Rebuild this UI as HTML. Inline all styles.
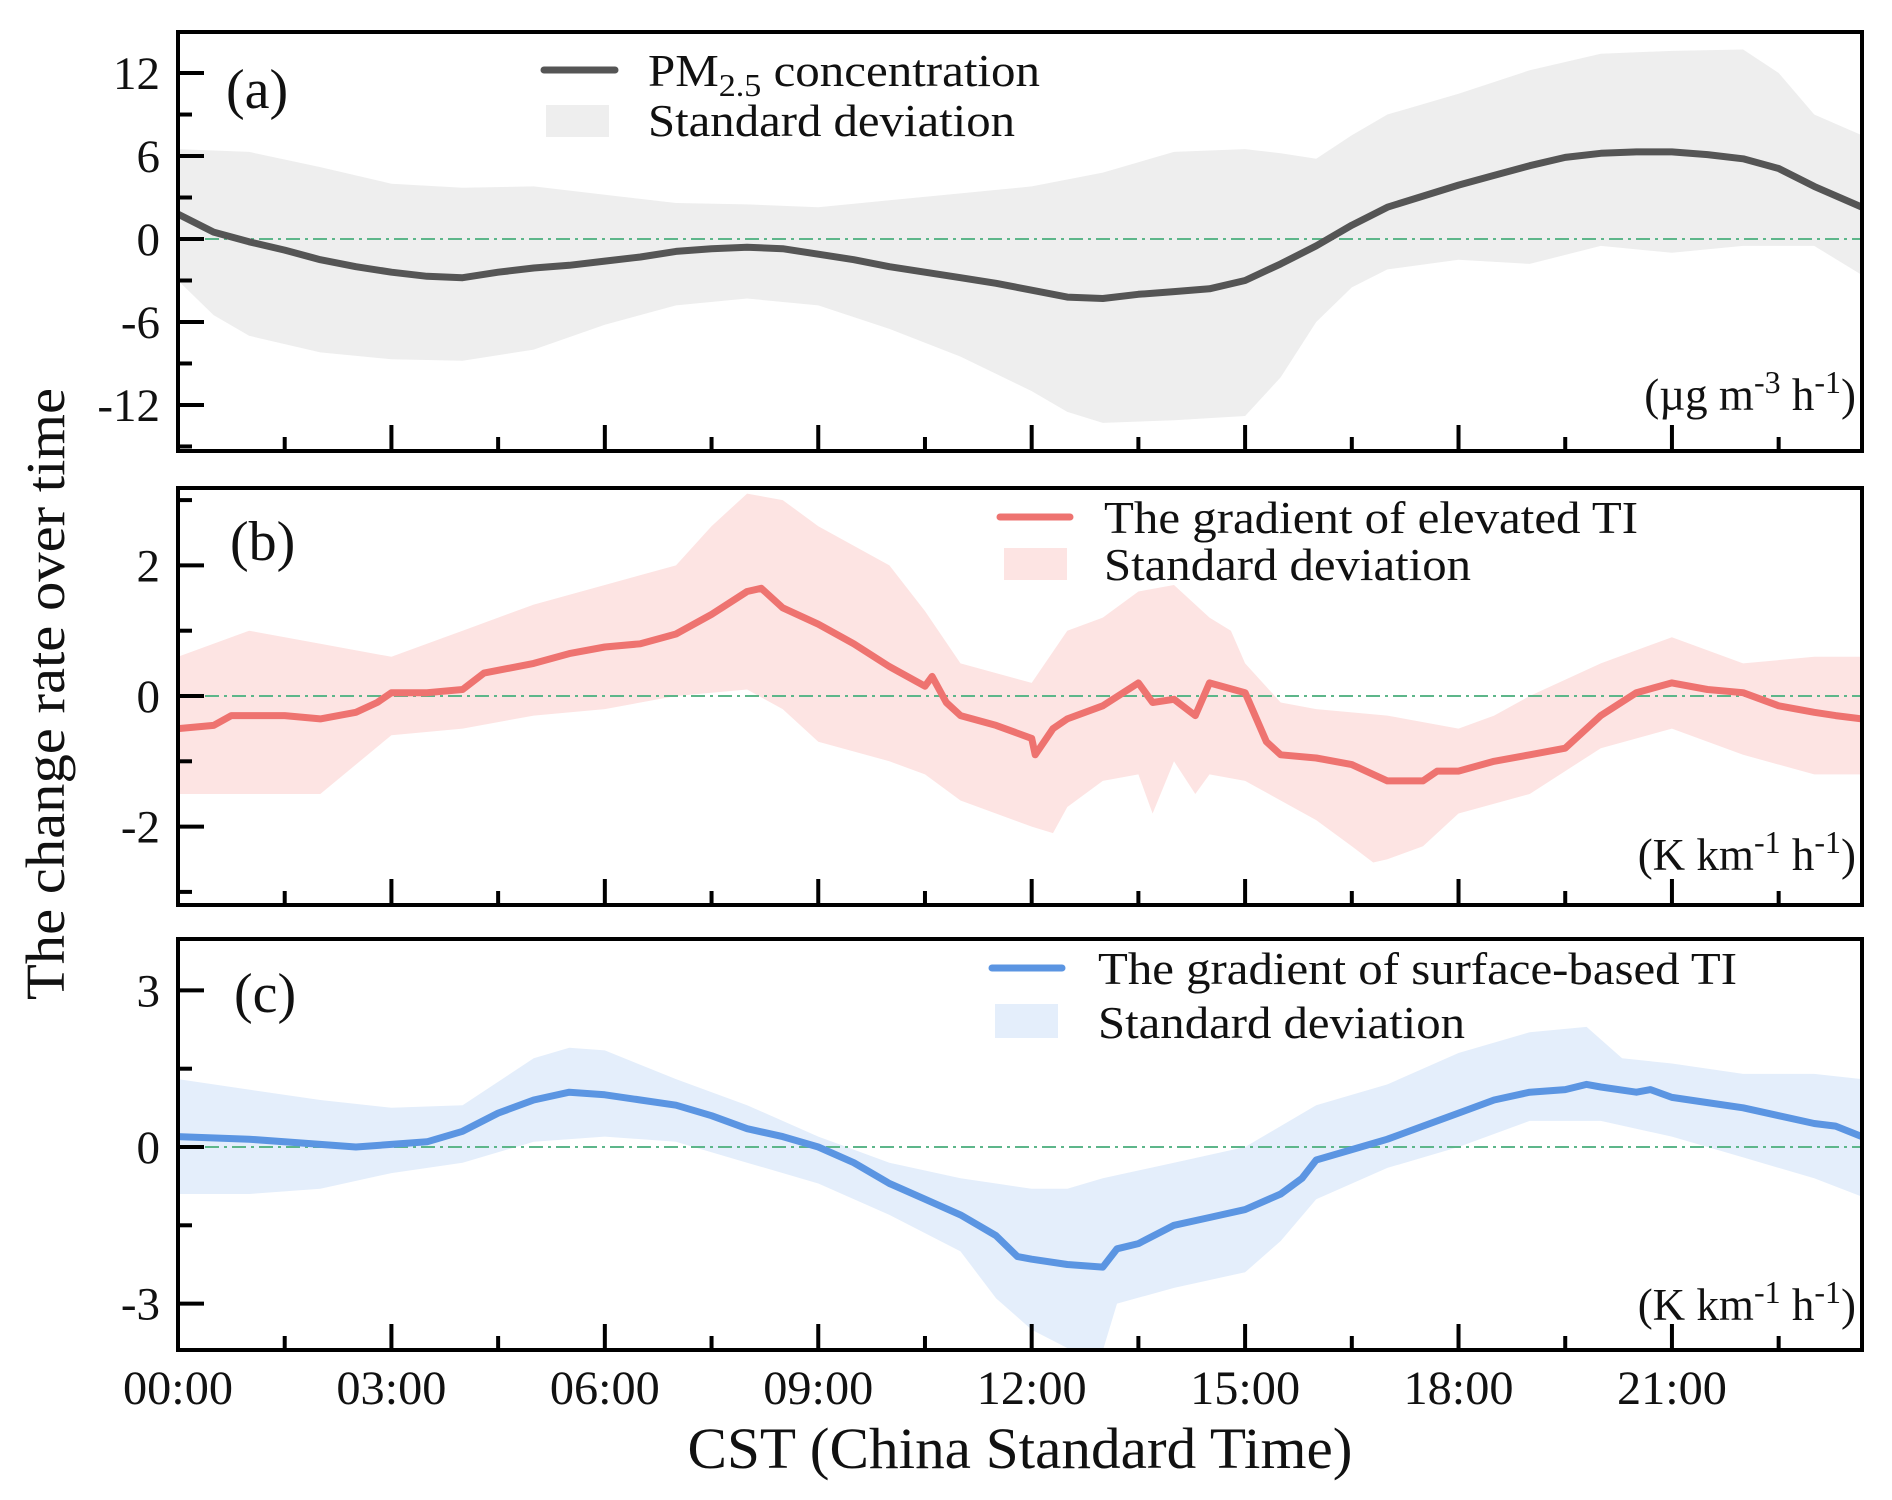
<!DOCTYPE html>
<html><head><meta charset="utf-8"><style>
html,body{margin:0;padding:0;background:#fff;}
svg{display:block;font-family:"Liberation Serif",serif;}
</style></head><body>
<svg id="chart" width="1892" height="1500" viewBox="0 0 1892 1500"></svg>
<script>
// ---- data ----
const tA=[0,0.5,1,1.5,2,2.5,3,3.5,4,4.5,5,5.5,6,6.5,7,7.5,8,8.5,9,9.5,10,10.5,11,11.5,12,12.5,13,13.5,14,14.5,15,15.5,16,16.5,17,17.5,18,18.5,19,19.5,20,20.5,21,21.5,22,22.5,23,23.67];
const meanA=[1.8,0.5,-0.2,-0.8,-1.5,-2.0,-2.4,-2.7,-2.8,-2.4,-2.1,-1.9,-1.6,-1.3,-0.9,-0.7,-0.6,-0.7,-1.1,-1.5,-2.0,-2.4,-2.8,-3.2,-3.7,-4.2,-4.3,-4.0,-3.8,-3.6,-3.0,-1.8,-0.5,1.0,2.3,3.1,3.9,4.6,5.3,5.9,6.2,6.3,6.3,6.1,5.8,5.1,3.8,2.3];
const tAU=[0,1,2,3,4,5,6,7,8,9,10,11,12,13,14,15,15.5,16,16.5,17,18,19,20,21,22,22.5,23,23.67];
const upA=[6.5,6.3,5.2,4.0,3.7,3.8,3.2,2.6,2.5,2.3,2.8,3.3,3.8,4.8,6.3,6.5,6.2,5.8,7.5,9.0,10.5,12.2,13.4,13.6,13.7,12,9,7.5];
const tAL=[0,0.5,1,2,3,4,5,6,7,8,9,10,11,12,12.5,13,14,15,15.5,16,16.5,17,18,19,20,21,22,23,23.67];
const loA=[-3,-5.5,-7,-8.2,-8.7,-8.8,-8.0,-6.2,-4.8,-4.3,-4.8,-6.5,-8.5,-11,-12.5,-13.3,-13.1,-12.8,-10,-6,-3.5,-2.2,-1.5,-1.8,-0.5,-1,-0.5,-0.5,-2.6];

const tB=[0,0.5,0.75,1.5,2,2.5,2.8,3,3.5,4,4.3,5,5.5,6,6.5,7,7.5,8,8.2,8.5,9,9.5,10,10.5,10.6,10.8,11,11.5,12,12.05,12.3,12.5,13,13.5,13.7,14,14.3,14.5,15,15.3,15.5,16,16.5,17,17.5,17.7,18,18.5,19,19.5,20,20.5,21,21.5,22,22.5,23,23.3,23.67];
const meanB=[-0.5,-0.45,-0.3,-0.3,-0.35,-0.25,-0.1,0.05,0.05,0.1,0.35,0.5,0.65,0.75,0.8,0.95,1.25,1.6,1.65,1.35,1.1,0.8,0.45,0.15,0.3,-0.1,-0.3,-0.45,-0.65,-0.9,-0.5,-0.35,-0.15,0.2,-0.1,-0.05,-0.3,0.2,0.05,-0.7,-0.9,-0.95,-1.05,-1.3,-1.3,-1.15,-1.15,-1.0,-0.9,-0.8,-0.3,0.05,0.2,0.1,0.05,-0.15,-0.25,-0.3,-0.35];
const tBU=[0,1,2,3,4,5,6,7,7.5,8,8.5,9,10,10.5,11,12,12.5,13,13.5,14,14.5,14.8,15,15.5,16,17,18,18.5,19,20,21,22,23,23.67];
const upB=[0.6,1.0,0.8,0.6,1.0,1.4,1.7,2.0,2.6,3.1,3.0,2.6,2.0,1.3,0.5,0.2,1.0,1.2,1.6,1.7,1.2,1.0,0.5,-0.1,-0.2,-0.3,-0.5,-0.3,0,0.5,0.9,0.5,0.6,0.6];
const tBL=[0,1,2,3,4,5,6,7,8,8.5,9,10,10.5,11,12,12.3,12.5,13,13.5,13.7,14,14.3,14.5,15,16,16.5,16.8,17,17.5,18,19,20,21,22,23,23.67];
const loB=[-1.5,-1.5,-1.5,-0.6,-0.5,-0.3,-0.2,0,0.1,-0.2,-0.7,-1.0,-1.2,-1.6,-2.0,-2.1,-1.7,-1.3,-1.2,-1.8,-1.0,-1.5,-1.2,-1.3,-1.9,-2.3,-2.55,-2.5,-2.3,-1.8,-1.5,-0.8,-0.5,-0.9,-1.2,-1.2];

const tC=[0,1,2,2.5,3,3.5,4,4.5,5,5.5,6,6.5,7,7.5,8,8.5,9,9.5,10,10.5,11,11.5,11.8,12,12.5,13,13.2,13.5,14,14.5,15,15.5,15.8,16,16.5,17,17.5,18,18.5,19,19.5,19.8,20,20.5,20.7,21,21.5,22,22.5,23,23.3,23.67];
const meanC=[0.2,0.15,0.05,0,0.05,0.1,0.3,0.65,0.9,1.05,1.0,0.9,0.8,0.6,0.35,0.2,0,-0.3,-0.7,-1.0,-1.3,-1.7,-2.1,-2.15,-2.25,-2.3,-1.95,-1.85,-1.5,-1.35,-1.2,-0.9,-0.6,-0.25,-0.05,0.15,0.4,0.65,0.9,1.05,1.1,1.2,1.15,1.05,1.1,0.95,0.85,0.75,0.6,0.45,0.4,0.2];
const tCU=[0,1,2,3,4,5,5.5,6,7,8,9,10,11,11.5,12,12.5,13,14,15,16,17,18,19,19.8,20.3,21,22,23,23.67];
const upC=[1.3,1.1,0.9,0.75,0.8,1.7,1.9,1.85,1.3,0.8,0.2,-0.3,-0.6,-0.7,-0.8,-0.8,-0.6,-0.3,0,0.8,1.2,1.8,2.2,2.3,1.7,1.6,1.4,1.4,1.3];
const tCL=[0,1,2,3,4,5,6,7,8,9,10,11,11.5,12,12.5,13,13.2,14,15,15.5,16,17,18,19,20,21,22,23,23.67];
const loC=[-0.9,-0.9,-0.8,-0.5,-0.3,0.1,0.2,0.1,-0.3,-0.7,-1.3,-2.0,-2.9,-3.5,-3.85,-3.9,-3.0,-2.7,-2.4,-1.8,-1.0,-0.4,0,0.5,0.5,0.2,-0.2,-0.6,-0.95];

const xTickLabels=["00:00","03:00","06:00","09:00","12:00","15:00","18:00","21:00"];
const yTicksA=[-12,-6,0,6,12];
const yTicksB=[-2,0,2];
const yTicksC=[-3,0,3];

// ---- layout ----
const NS="http://www.w3.org/2000/svg";
const svg=document.getElementById('chart');
const X0=178,X1=1862,PXH=71.14;
const xs=h=>X0+h*PXH;
function mk(tag,attrs,parent){const e=document.createElementNS(NS,tag);for(const k in attrs)e.setAttribute(k,attrs[k]);(parent||svg).appendChild(e);return e;}
const sup=s=>'<tspan dy="-17" font-size="32">'+s+'</tspan>';
const panels=[
 {id:'a',top:32,bot:451,y0:239,ppu:13.83,t:tA,m:meanA,tu:tAU,u:upA,tl:tAL,l:loA,ticks:yTicksA,minor:3,line:'#555555',fill:'#eeeeee',
  unit:'(µg m'+sup('-3')+'<tspan dy="17"> h</tspan>'+sup('-1')+'<tspan dy="17">)</tspan>',uy:410,
  lab:'(a)',ly:108,lx:226,leg:{lx0:544,lx1:615,ly:70,px0:546,px1:609,py0:105,py1:137,tx:648,t1y:86,t2y:136,w1:392,
  t1:'PM<tspan dy="10" font-size="32">2.5</tspan><tspan dy="-10"> concentration</tspan>'}},
 {id:'b',top:488,bot:905,y0:696,ppu:65.3,t:tB,m:meanB,tu:tBU,u:upB,tl:tBL,l:loB,ticks:yTicksB,minor:1,line:'#ee7370',fill:'#fde4e3',
  unit:'(K km'+sup('-1')+'<tspan dy="17"> h</tspan>'+sup('-1')+'<tspan dy="17">)</tspan>',uy:870,
  lab:'(b)',ly:560,lx:230,leg:{lx0:1000,lx1:1070,ly:517,px0:1004,px1:1067,py0:548,py1:580,tx:1104,t1y:533,t2y:580,w1:534,t1:'The gradient of elevated TI'}},
 {id:'c',top:939,bot:1350,y0:1147,ppu:52.2,t:tC,m:meanC,tu:tCU,u:upC,tl:tCL,l:loC,ticks:yTicksC,minor:1.5,line:'#5b95e2',fill:'#e4eefb',
  unit:'(K km'+sup('-1')+'<tspan dy="17"> h</tspan>'+sup('-1')+'<tspan dy="17">)</tspan>',uy:1320,
  lab:'(c)',ly:1012,lx:234,leg:{lx0:992,lx1:1062,ly:968,px0:995,px1:1058,py0:1004,py1:1038,tx:1098,t1y:984,t2y:1038,w1:639,t1:'The gradient of surface-based TI'}}
];
panels.forEach(p=>{
  const ys=v=>p.y0-v*p.ppu;
  const g=mk('g',{});
  
  
  const cp=mk('clipPath',{id:'clip'+p.id},g);
  mk('rect',{x:X0,y:p.top,width:X1-X0,height:p.bot-p.top},cp);
  const inner=mk('g',{'clip-path':'url(#clip'+p.id+')'},g);
  let d='M'+p.tu.map((t,i)=>xs(t).toFixed(1)+','+ys(p.u[i]).toFixed(1)).join('L');
  for(let i=p.tl.length-1;i>=0;i--)d+='L'+xs(p.tl[i]).toFixed(1)+','+ys(p.l[i]).toFixed(1);
  const band=mk('path',{d:d+'Z',fill:p.fill,stroke:'none'},inner);
  
  
  const zl=mk('line',{x1:X0,x2:X1,y1:ys(0),y2:ys(0),stroke:'#5db68a','stroke-width':2,'stroke-dasharray':'14,5,3,5'},inner);
  
  
  const ln=mk('path',{d:'M'+p.t.map((t,i)=>xs(t).toFixed(1)+','+ys(p.m[i]).toFixed(1)).join('L'),fill:'none',stroke:p.line,'stroke-width':7,'stroke-linejoin':'round'},inner);
  
  
  for(let h=0;h<=23.6;h+=1.5){
    const major=Math.abs(h%3)<0.01;
    mk('line',{x1:xs(h),x2:xs(h),y1:p.bot,y2:p.bot-(major?26:14),stroke:'#000','stroke-width':4},g);
  }
  const lo=p.ticks[0]-p.minor*2,hi=p.ticks[p.ticks.length-1]+p.minor*2;
  for(let v=lo;v<=hi+0.001;v+=p.minor){
    const y=ys(v);if(y<p.top+3||y>p.bot-3)continue;
    const major=p.ticks.some(t=>Math.abs(t-v)<0.001);
    mk('line',{x1:X0,x2:X0+(major?26:14),y1:y,y2:y,stroke:'#000','stroke-width':4},g);
  }
  p.ticks.forEach(v=>{
    const t=mk('text',{x:160,y:ys(v)+16,'text-anchor':'end','font-size':47,fill:'#111'},g);
    t.textContent=String(v);
    
    
  });
  const fr=mk('rect',{x:X0,y:p.top,width:X1-X0,height:p.bot-p.top,fill:'none',stroke:'#000','stroke-width':4},g);
  
  
  const lb=mk('text',{x:p.lx,y:p.ly,'font-size':56,fill:'#111'},g);
  lb.textContent=p.lab;
  
  
  const un=mk('text',{x:X1-6,y:p.uy,'text-anchor':'end','font-size':45,fill:'#111'},g);
  un.innerHTML=p.unit;
  
  
  const L=p.leg;
  const lg=mk('g',{},g);
  
  
  mk('line',{x1:L.lx0,x2:L.lx1,y1:L.ly,y2:L.ly,stroke:p.line,'stroke-width':7,'stroke-linecap':'round'},lg);
  mk('rect',{x:L.px0,y:L.py0,width:L.px1-L.px0,height:L.py1-L.py0,fill:p.fill},lg);
  const t1=mk('text',{x:L.tx,y:L.t1y,'font-size':46,fill:'#111',textLength:L.w1,lengthAdjust:'spacingAndGlyphs'},lg);
  t1.innerHTML=L.t1;
  
  
  const t2=mk('text',{x:L.tx,y:L.t2y,'font-size':46,fill:'#111',textLength:367,lengthAdjust:'spacingAndGlyphs'},lg);
  t2.textContent='Standard deviation';
  
  
});
xTickLabels.forEach((s,i)=>{
  const t=mk('text',{x:xs(i*3),y:1404,'text-anchor':'middle','font-size':48,fill:'#111',textLength:110,lengthAdjust:'spacingAndGlyphs'});
  t.textContent=s;
  
  
});
const xt=mk('text',{x:1020,y:1468,'text-anchor':'middle','font-size':58,fill:'#111',textLength:665,lengthAdjust:'spacingAndGlyphs'});
xt.textContent='CST (China Standard Time)';


const yt=mk('text',{x:0,y:0,'text-anchor':'middle','font-size':55,fill:'#111',transform:'translate(64,694) rotate(-90)',textLength:612,lengthAdjust:'spacingAndGlyphs'});
yt.textContent='The change rate over time';


</script>
</body></html>
